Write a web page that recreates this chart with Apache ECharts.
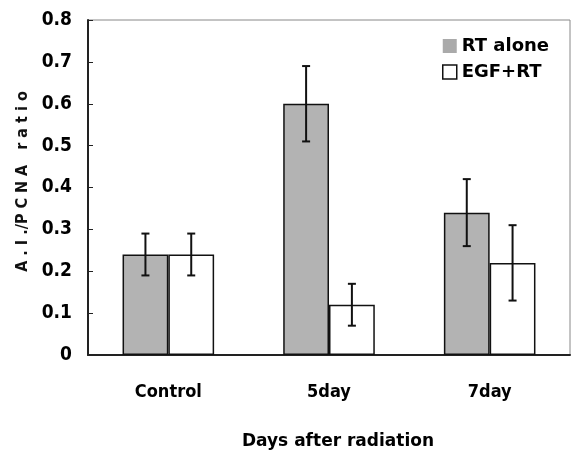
<!DOCTYPE html>
<html>
<head>
<meta charset="utf-8">
<script src="https://cdn.jsdelivr.net/npm/echarts@6/dist/echarts.min.js"></script>
<style>
  html, body { margin: 0; padding: 0; background: #fff; }
  #main { width: 571px; height: 452px; }
</style>
</head>
<body>
<div id="main"></div>
<script>
var categories = ["Control", "5day", "7day"];
var seriesNames = ["RT alone", "EGF+RT"];
var rtMean = [0.24, 0.60, 0.34];
var rtErr = [0.05, 0.09, 0.08];
var egfMean = [0.24, 0.12, 0.22];
var egfErr = [0.05, 0.05, 0.09];

var gapRatio = 0.43;

function errData(mean, err) {
  return mean.map(function (m, i) {
    return [i, m - err[i], m + err[i]];
  });
}

function errRender(side) {
  return function (params, api) {
    var i = api.value(0);
    var lo = api.coord([i, api.value(1)]);
    var hi = api.coord([i, api.value(2)]);
    var band = api.size([1, 0])[0];
    var bw = band * (1 - gapRatio) / 2;
    var x = lo[0] + side * bw / 2;
    var cap = 4;
    var st = { stroke: "#111", lineWidth: 2 };
    return {
      type: "group",
      children: [
        { type: "line", shape: { x1: x, y1: lo[1], x2: x, y2: hi[1] }, style: st },
        { type: "line", shape: { x1: x - cap, y1: lo[1], x2: x + cap, y2: lo[1] }, style: st },
        { type: "line", shape: { x1: x - cap, y1: hi[1], x2: x + cap, y2: hi[1] }, style: st }
      ]
    };
  };
}

var myChart = echarts.init(document.getElementById("main"));
myChart.setOption({
  animation: false,
  backgroundColor: "#fff",
  grid: {
    left: 88,
    right: 1,
    top: 20,
    bottom: 97,
    outerBoundsMode: "none",
    containLabel: false,
    show: true,
    borderColor: "#888",
    borderWidth: 1
  },
  legend: {
    orient: "vertical",
    left: 442,
    top: 36,
    padding: 0,
    itemWidth: 14,
    itemHeight: 14,
    itemGap: 6,
    icon: "rect",
    data: [
      { name: seriesNames[0], itemStyle: { borderWidth: 0, color: "#aaa" } },
      { name: seriesNames[1], itemStyle: { borderWidth: 1.5, borderColor: "#111", color: "#fff" } }
    ],
    textStyle: {
      fontFamily: "DejaVu Sans",
      fontWeight: "bold",
      fontSize: 18,
      color: "#000",
      lineHeight: 20
    }
  },
  xAxis: {
    type: "category",
    data: categories,
    name: "Days after radiation",
    nameLocation: "middle",
    nameGap: 78,
    nameTextStyle: {
      fontFamily: "DejaVu Sans",
      fontWeight: "bold",
      fontSize: 17,
      color: "#000",
      padding: [0, 0, 0, 18]
    },
    axisLine: { lineStyle: { color: "#222", width: 2 } },
    axisTick: { inside: true, length: 5, lineStyle: { color: "#222" } },
    axisLabel: {
      margin: 28,
      fontFamily: "DejaVu Sans Condensed",
      fontWeight: "bold",
      fontSize: 18,
      color: "#000"
    }
  },
  yAxis: {
    type: "value",
    min: 0,
    max: 0.8,
    interval: 0.1,
    name: "A . I ./P C N A   r a t i o",
    nameLocation: "middle",
    nameRotate: 90,
    nameGap: 56,
    nameTextStyle: {
      fontFamily: "DejaVu Sans Condensed",
      fontWeight: "bold",
      fontSize: 16,
      color: "#111",
      padding: [0, 0, 0, 12]
    },
    splitLine: { show: false },
    axisLine: { show: true, lineStyle: { color: "#222", width: 2 } },
    axisTick: { show: true, inside: true, length: 5, lineStyle: { color: "#222" } },
    axisLabel: {
      margin: 16,
      fontFamily: "DejaVu Sans Condensed",
      fontWeight: "bold",
      fontSize: 19,
      color: "#000",
      formatter: function (v) { return v === 0 ? "0" : v.toFixed(1); }
    }
  },
  series: [
    {
      name: seriesNames[0],
      type: "bar",
      data: rtMean,
      barGap: "0%",
      barCategoryGap: gapRatio * 100 + "%",
      itemStyle: { color: "#b3b3b3", borderColor: "#111", borderWidth: 1.5 },
      z: 2
    },
    {
      name: seriesNames[1],
      type: "bar",
      data: egfMean,
      barGap: "0%",
      barCategoryGap: gapRatio * 100 + "%",
      itemStyle: { color: "#fff", borderColor: "#111", borderWidth: 1.5 },
      z: 2
    },
    {
      type: "custom",
      renderItem: errRender(-1),
      data: errData(rtMean, rtErr),
      encode: { x: 0, y: [1, 2] },
      z: 5
    },
    {
      type: "custom",
      renderItem: errRender(1),
      data: errData(egfMean, egfErr),
      encode: { x: 0, y: [1, 2] },
      z: 5
    }
  ]
});
</script>
</body>
</html>
